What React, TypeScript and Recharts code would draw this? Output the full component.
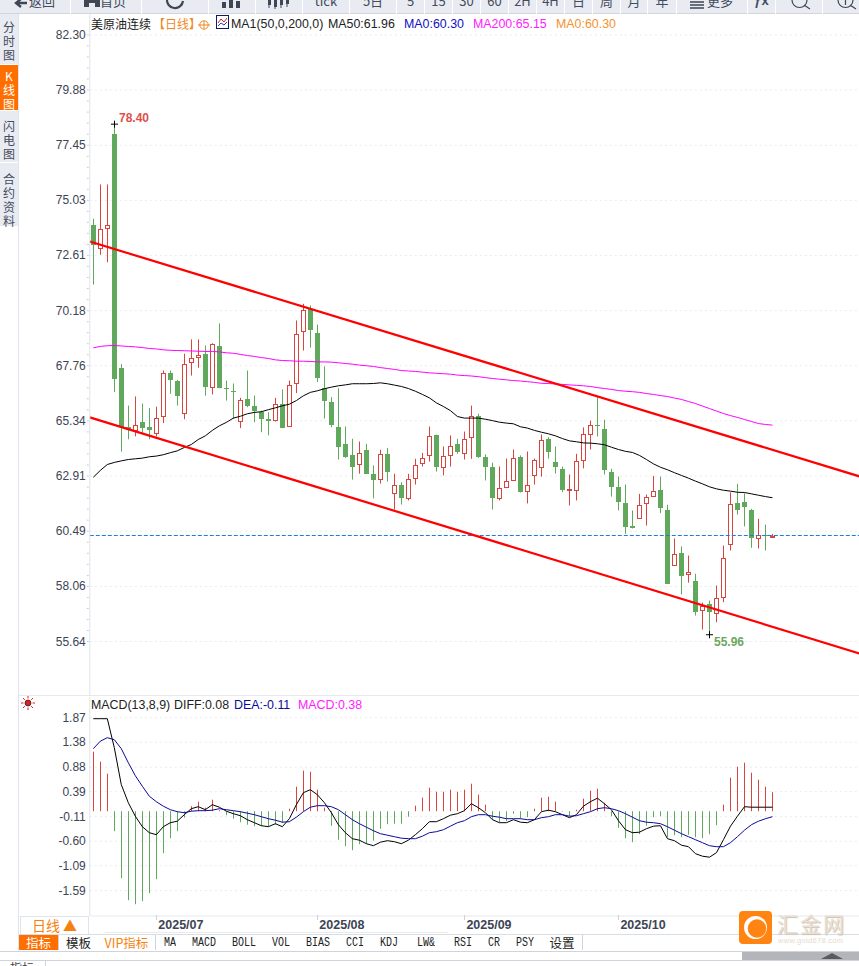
import { Bar, CartesianGrid, ComposedChart, Line, ReferenceLine, XAxis, YAxis } from "recharts";

const SLOTS = 110;

const opens = [
  73.93, 72.93, 73.81, 77.93, 67.67, 65.09, 64.95, 65.27, 65.09, 64.81,
  65.54, 67.46, 67.07, 65.68, 67.94, 68.14, 68.26, 66.84, 68.61, 66.79,
  66.67, 65.34, 66.28, 65.97, 65.74, 65.43, 65.39, 66.09, 65.10, 67.01,
  69.30, 70.26, 69.22, 66.79, 66.15, 65.09, 64.30, 63.82, 63.43, 64.04,
  63.02, 62.77, 63.86, 62.16, 62.54, 61.93, 62.82, 63.50, 63.83, 64.70,
  63.30, 63.83, 64.30, 63.92, 64.62, 65.57, 63.77, 63.29, 61.97, 62.42,
  62.73, 63.77, 62.26, 62.95, 63.30, 64.56, 63.55, 63.24, 62.29, 62.31,
  63.63, 64.77, 65.17, 65.00, 63.11, 62.41, 61.75, 60.70, 61.09, 61.72,
  62.03, 62.28, 61.44, 58.99, 59.54, 58.60, 58.31, 57.03, 57.30, 56.90,
  57.59, 59.92, 61.75, 61.78, 61.44, 60.18, 60.33, 60.22,
];
const highs = [
  74.22, 75.73, 75.73, 78.40, 67.83, 66.01, 66.41, 66.10, 65.90, 65.96,
  67.55, 67.55, 67.14, 68.29, 68.92, 68.92, 68.65, 68.75, 69.62, 67.11,
  66.98, 66.35, 67.55, 66.45, 65.79, 65.72, 66.35, 66.72, 67.11, 69.75,
  70.48, 70.41, 69.57, 67.73, 66.38, 66.77, 65.09, 64.55, 64.43, 64.33,
  63.38, 64.07, 64.15, 63.01, 62.64, 63.01, 63.67, 63.93, 65.09, 64.73,
  64.21, 64.70, 64.55, 64.87, 66.01, 65.65, 63.86, 63.50, 63.33, 63.68,
  64.08, 63.82, 63.99, 63.68, 64.74, 64.62, 64.21, 63.33, 62.98, 63.89,
  65.05, 65.35, 66.38, 65.39, 63.23, 62.89, 62.54, 61.40, 62.13, 62.10,
  62.92, 62.89, 61.65, 60.17, 59.82, 59.42, 58.62, 57.35, 57.44, 58.10,
  59.86, 62.20, 62.57, 62.16, 61.47, 61.03, 60.78, 60.37,
];
const lows = [
  71.33, 72.64, 72.31, 66.60, 63.99, 64.53, 64.66, 64.77, 64.53, 64.65,
  65.24, 66.53, 66.01, 65.41, 67.33, 67.67, 66.45, 66.50, 66.77, 66.23,
  65.43, 65.02, 65.94, 65.28, 64.84, 64.70, 65.31, 65.02, 65.08, 66.56,
  68.43, 68.56, 67.04, 65.44, 65.06, 63.64, 63.71, 62.76, 63.02, 63.02,
  61.93, 62.58, 62.67, 61.44, 61.66, 61.84, 62.54, 63.33, 63.55, 63.11,
  62.94, 63.33, 63.89, 63.64, 63.67, 63.71, 62.72, 61.44, 61.84, 62.38,
  62.72, 62.19, 61.71, 62.54, 62.89, 63.68, 63.02, 62.20, 61.62, 61.84,
  63.25, 64.08, 64.65, 62.98, 62.01, 61.40, 60.37, 60.61, 61.06, 60.74,
  62.03, 61.28, 58.19, 58.99, 57.71, 58.23, 56.78, 56.17, 55.96, 56.49,
  57.37, 59.64, 61.22, 60.70, 59.76, 59.73, 59.64, 60.22,
];
const closes = [
  73.05, 73.78, 73.96, 67.17, 65.05, 64.95, 65.17, 65.02, 64.92, 65.47,
  67.45, 67.13, 66.45, 67.85, 68.11, 68.24, 66.82, 68.70, 66.77, 66.72,
  66.60, 66.26, 65.98, 65.75, 65.40, 65.35, 66.09, 65.02, 66.92, 69.17,
  70.22, 69.32, 67.21, 66.20, 65.15, 64.21, 63.77, 63.29, 63.93, 63.02,
  62.72, 63.89, 63.11, 62.53, 61.97, 62.79, 63.41, 63.71, 64.68, 63.29,
  63.80, 64.24, 63.96, 64.55, 65.56, 63.73, 63.29, 61.93, 62.40, 62.70,
  63.71, 62.19, 62.53, 63.63, 64.51, 63.95, 63.29, 62.32, 62.33, 63.58,
  64.77, 65.17, 65.12, 63.17, 62.42, 61.76, 60.66, 60.61, 61.65, 62.00,
  62.26, 61.50, 58.19, 59.50, 58.54, 58.70, 56.93, 57.22, 56.93, 57.56,
  59.32, 61.69, 61.40, 61.54, 60.18, 60.33, 60.29, 60.30,
];
const ma50 = [
  62.86, 63.16, 63.42, 63.51, 63.58, 63.64, 63.67, 63.70, 63.76, 63.79,
  63.85, 63.94, 64.02, 64.17, 64.30, 64.52, 64.68, 64.92, 65.12, 65.27,
  65.46, 65.54, 65.65, 65.71, 65.74, 65.83, 65.91, 66.00, 66.07, 66.23,
  66.44, 66.59, 66.66, 66.75, 66.82, 66.88, 66.92, 66.97, 66.97, 66.97,
  66.98, 67.01, 66.97, 66.91, 66.85, 66.76, 66.64, 66.50, 66.35, 66.13,
  65.97, 65.79, 65.53, 65.46, 65.46, 65.46, 65.41, 65.35, 65.28, 65.24,
  65.21, 65.08, 65.02, 64.92, 64.84, 64.77, 64.68, 64.56, 64.46, 64.42,
  64.37, 64.36, 64.33, 64.29, 64.18, 64.08, 64.00, 63.95, 63.82, 63.64,
  63.45, 63.30, 63.19, 63.06, 62.94, 62.82, 62.69, 62.57, 62.44, 62.35,
  62.29, 62.25, 62.20, 62.19, 62.13, 62.07, 62.01, 61.96,
];
const ma200 = [
  68.55, 68.61, 68.64, 68.65, 68.63, 68.61, 68.59, 68.56, 68.52, 68.50,
  68.46, 68.44, 68.43, 68.42, 68.41, 68.40, 68.39, 68.39, 68.37, 68.33,
  68.31, 68.26, 68.21, 68.17, 68.12, 68.08, 68.02, 67.99, 67.98, 67.96,
  67.96, 67.95, 67.93, 67.93, 67.92, 67.89, 67.86, 67.83, 67.79, 67.76,
  67.73, 67.68, 67.64, 67.60, 67.55, 67.53, 67.51, 67.48, 67.45, 67.43,
  67.41, 67.39, 67.35, 67.33, 67.31, 67.28, 67.24, 67.20, 67.17, 67.14,
  67.11, 67.09, 67.06, 67.03, 66.99, 66.98, 66.96, 66.94, 66.92, 66.90,
  66.88, 66.85, 66.80, 66.76, 66.72, 66.67, 66.64, 66.62, 66.59, 66.54,
  66.50, 66.45, 66.41, 66.34, 66.28, 66.19, 66.10, 65.99, 65.88, 65.77,
  65.66, 65.57, 65.49, 65.40, 65.31, 65.22, 65.18, 65.15,
];
const diff = [
  1.85, 1.85, 1.85, 1.27, 0.53, 0.17, -0.10, -0.31, -0.43, -0.47,
  -0.31, -0.23, -0.20, -0.07, 0.05, 0.09, 0.03, 0.13, 0.08, 0.00,
  -0.05, -0.09, -0.17, -0.23, -0.29, -0.31, -0.25, -0.31, -0.15, 0.13,
  0.37, 0.43, 0.33, 0.17, -0.03, -0.27, -0.43, -0.55, -0.58, -0.65,
  -0.69, -0.62, -0.59, -0.61, -0.65, -0.58, -0.47, -0.35, -0.21, -0.21,
  -0.15, -0.08, -0.05, 0.01, 0.15, 0.07, -0.03, -0.17, -0.23, -0.23,
  -0.17, -0.22, -0.23, -0.17, -0.01, 0.02, -0.01, -0.07, -0.13, -0.07,
  0.10, 0.19, 0.26, 0.15, 0.03, -0.19, -0.37, -0.43, -0.42, -0.35,
  -0.30, -0.29, -0.55, -0.59, -0.68, -0.71, -0.85, -0.90, -0.92, -0.83,
  -0.57, -0.30, -0.10, 0.09, 0.08, 0.08, 0.08, 0.08,
];
const dea = [
  1.25, 1.40, 1.47, 1.43, 1.25, 0.97, 0.71, 0.50, 0.30, 0.19,
  0.10, 0.03, -0.01, -0.03, 0.00, 0.01, 0.01, 0.02, 0.05, 0.03,
  0.01, -0.01, -0.04, -0.07, -0.11, -0.15, -0.18, -0.22, -0.21, -0.12,
  -0.01, 0.08, 0.11, 0.11, 0.09, 0.03, -0.07, -0.17, -0.25, -0.32,
  -0.39, -0.45, -0.48, -0.51, -0.54, -0.55, -0.55, -0.50, -0.43, -0.41,
  -0.37, -0.30, -0.23, -0.19, -0.11, -0.07, -0.07, -0.10, -0.12, -0.15,
  -0.15, -0.15, -0.17, -0.17, -0.13, -0.11, -0.07, -0.07, -0.10, -0.09,
  -0.05, -0.01, 0.05, 0.07, 0.05, 0.01, -0.05, -0.12, -0.19, -0.22,
  -0.23, -0.25, -0.31, -0.38, -0.45, -0.51, -0.57, -0.63, -0.69, -0.71,
  -0.71, -0.63, -0.51, -0.38, -0.27, -0.20, -0.15, -0.11,
];
const macd = [
  1.19, 0.99, 0.75, -0.40, -1.34, -1.78, -1.86, -1.80, -1.64, -1.36,
  -0.84, -0.54, -0.40, -0.13, 0.10, 0.19, 0.07, 0.23, 0.02, -0.08,
  -0.15, -0.22, -0.27, -0.30, -0.30, -0.31, -0.27, -0.23, 0.05, 0.49,
  0.81, 0.79, 0.43, 0.07, -0.29, -0.57, -0.70, -0.78, -0.66, -0.65,
  -0.59, -0.35, -0.26, -0.25, -0.25, -0.11, 0.11, 0.27, 0.47, 0.39,
  0.39, 0.43, 0.39, 0.43, 0.55, 0.33, 0.13, -0.17, -0.22, -0.20,
  -0.05, -0.15, -0.12, 0.05, 0.27, 0.29, 0.19, -0.01, -0.10, 0.03,
  0.25, 0.41, 0.45, 0.17, -0.10, -0.33, -0.54, -0.62, -0.46, -0.29,
  -0.12, -0.10, -0.52, -0.48, -0.52, -0.47, -0.52, -0.54, -0.46, -0.28,
  0.13, 0.67, 0.89, 0.97, 0.77, 0.63, 0.49, 0.38,
];

const priceTicks = [82.3, 79.88, 77.45, 75.03, 72.61, 70.18, 67.76, 65.34, 62.91, 60.49, 58.06, 55.64];
const macdTicks = [1.87, 1.38, 0.88, 0.39, -0.11, -0.6, -1.09, -1.59];
const monthStarts = [9, 32, 53, 75];
const monthLabels = ["2025/07", "2025/08", "2025/09", "2025/10"];
const lastPrice = 60.3;
const upperChannel = [{ t: 0, v: 73.22 }, { t: SLOTS, v: 62.89 }];
const lowerChannel = [{ t: 0, v: 65.49 }, { t: SLOTS, v: 55.11 }];

const minorPriceTicks = priceTicks.slice(0, -1).flatMap((t, i) =>
  [1, 2, 3, 4].map((k) => t + ((priceTicks[i + 1] - t) * k) / 5),
);

const rows = Array.from({ length: SLOTS }, (_, i) => ({
  idx: i,
  range: i < opens.length ? [lows[i], highs[i]] : null,
  open: opens[i],
  high: highs[i],
  low: lows[i],
  close: closes[i],
  ma50: ma50[i] ?? null,
  ma200: ma200[i] ?? null,
  diff: diff[i] ?? null,
  dea: dea[i] ?? null,
  macd: macd[i] ?? null,
}));

const RED = "#d8453f";
const GREEN = "#60a85b";
const AXIS = "#dfe4ec";
const GRID = "#e8eaee";
const LABEL = "#3d4454";
const ICON = "#3f4656";
const SANS = "'Liberation Sans', Arial, sans-serif";
const CJK = "'Noto Sans CJK SC', sans-serif";

const maxHigh = Math.max(...highs);
const minLow = Math.min(...lows);

function Candle(props: any) {
  const { x, y, width, height, payload } = props;
  if (!payload || payload.range === null) return null;
  const { open, high, low, close } = payload;
  const h = Math.abs(height);
  const unit = h / (high - low);
  const col = Math.floor(x + width / 2);
  const top = Math.round(y + (high - Math.max(open, close)) * unit);
  const bottom = Math.round(y + (high - Math.min(open, close)) * unit);
  const up = close >= open;
  const color = up ? RED : GREEN;
  return (
    <g>
      <line x1={col + 0.5} x2={col + 0.5} y1={y} y2={y + h} stroke={color} strokeWidth={1} />
      {up ? (
        <rect x={col - 1.5} y={top + 0.5} width={4} height={Math.max(bottom - top, 1)} fill="#fff" stroke={color} strokeWidth={1} />
      ) : (
        <rect x={col - 2} y={top} width={5} height={Math.max(bottom - top, 1)} fill={color} />
      )}
      {high === maxHigh && (
        <g>
          <path d={`M${col - 3} ${y + 0.5}H${col + 4}M${col + 0.5} ${y - 3}V${y + 4}`} stroke="#000" strokeWidth={1} />
          <text x={col + 5} y={y - 2} fontSize={12} fontWeight="bold" fontFamily={SANS} fill="#e0504a">
            {high.toFixed(2)}
          </text>
        </g>
      )}
      {low === minLow && (
        <g>
          <path d={`M${col - 3} ${y + h + 0.5}H${col + 4}M${col + 0.5} ${y + h - 3}V${y + h + 4}`} stroke="#000" strokeWidth={1} />
          <text x={col + 5} y={y + h + 12} fontSize={12} fontWeight="bold" fontFamily={SANS} fill="#6aa860">
            {low.toFixed(2)}
          </text>
        </g>
      )}
    </g>
  );
}

function MacdBar(props: any) {
  const { x, y, width, height, payload } = props;
  if (!payload || payload.macd === null) return null;
  const col = Math.floor(x + width / 2);
  return (
    <rect
      x={col}
      y={Math.min(y, y + height)}
      width={1}
      height={Math.abs(height)}
      fill={payload.macd >= 0 ? RED : GREEN}
    />
  );
}

function PriceTick(props: any) {
  const { x, y, payload } = props;
  const major = priceTicks.includes(payload.value);
  return (
    <g>
      <line x1={x + 1} x2={x + 3} y1={y} y2={y} stroke="#c9ced8" />
      {major && (
        <text x={x} y={y + 4} textAnchor="end" fontSize={12} fontFamily={SANS} fill={LABEL}>
          {payload.value.toFixed(2)}
        </text>
      )}
    </g>
  );
}

function MonthTick(props: any) {
  const { x, y, payload } = props;
  const label = monthLabels[monthStarts.indexOf(payload.value)];
  return (
    <g>
      <line x1={Math.floor(x) + 0.5} x2={Math.floor(x) + 0.5} y1={y - 1} y2={y + 4} stroke="#cfd4dc" />
      <text x={x + 2} y={y + 13} fontSize={12.5} fontWeight="bold" fontFamily={SANS} fill={LABEL}>
        {label}
      </text>
    </g>
  );
}

function Abs({ x, y, color, size = 12.4, font = SANS, bold, children }: any) {
  return (
    <span
      style={{
        position: "absolute",
        left: x,
        top: y,
        color,
        fontSize: size,
        fontFamily: font,
        fontWeight: bold ? "bold" : "normal",
        lineHeight: "16px",
        whiteSpace: "nowrap",
      }}
    >
      {children}
    </span>
  );
}

const toolbar: [number, number, string, number][] = [
  [0, 70, "返回", 14], [71, 141, "首页", 14], [142, 208, "", 0], [209, 255, "", 0], [256, 302, "", 0], [303, 349, "tick", 0],
  [350, 396, "5日", 0], [397, 424, "5", 0], [425, 452, "15", 0], [453, 480, "30", 0], [481, 508, "60", 0], [509, 536, "2H", 0],
  [537, 564, "4H", 0], [565, 592, "日", 0], [593, 620, "周", 0], [621, 647, "月", 0], [648, 676, "年", 0], [677, 747, "更多", 16],
  [748, 775, "ƒx", 0], [776, 822, "", 0], [823, 859, "", 0],
];

const sideTabs: [number, number, string, boolean, number][] = [
  [14, 65, "分时图", false, 6],
  [65, 111, "K线图", true, 4],
  [111, 163, "闪电图", false, 8],
  [163, 227, "合约资料", false, 9],
];

const bottomTabs: [number, number, string][] = [
  [19, 58, "指标"], [59, 98, "模板"], [98, 155, "VIP指标"], [156, 184, "MA"], [184, 224, "MACD"], [224, 264, "BOLL"],
  [264, 298, "VOL"], [298, 338, "BIAS"], [338, 372, "CCI"], [372, 406, "KDJ"], [406, 446, "LW&"], [446, 480, "RSI"],
  [480, 508, "CR"], [508, 542, "PSY"], [542, 582, "设置"],
];

function ToolbarIcons() {
  return (
    <svg style={{ position: "absolute", left: 0, top: 0 }} width={859} height={13}>
      <path d="M27 3H18M21 -1L16 3L21 7" fill="none" stroke={ICON} strokeWidth={2.4} />
      <path d="M84 0L92 -5L100 0V7H95V3H89V7H84Z" fill={ICON} />
      <path d="M167 -1A8 8 0 0 0 183 1" fill="none" stroke={ICON} strokeWidth={2.2} />
      <path d="M222 2h4v6h-4zM229 -1h4v9h-4zM236 1h4v7h-4z" fill={ICON} />
      <path d="M268 0h3v5h-3zM274 0h3v7h-3zM280 0h3v5h-3zM286 0h3v4h-3z" fill={ICON} />
      <path d="M269 5v3M275 7v2M281 5v3M287 4v3" stroke={ICON} />
      <path d="M690 2H704M690 5H704M690 8H704" stroke={ICON} strokeWidth={1.6} />
      <path d="M792 0A7.5 7.5 0 0 0 807 0M804 5L810 9" fill="none" stroke={ICON} strokeWidth={1.2} />
      <path d="M838 0A7.5 7.5 0 0 0 853 0M850 5L856 9M845.5 0V5" fill="none" stroke={ICON} strokeWidth={1.2} />
    </svg>
  );
}

export default function App() {
  return (
    <div style={{ position: "absolute", left: 0, top: 0, width: 859, height: 966, overflow: "hidden", background: "#fff" }}>
      {/* toolbar, cut off by the screenshot */}
      {toolbar.map(([a, b, t, pad]) => (
        <div
          key={a}
          style={{
            position: "absolute", left: a, top: 0, width: b - a - pad, paddingLeft: pad, height: 13, overflow: "hidden", background: "#e9ebf3",
            borderBottom: "1px solid #d3d5db", textAlign: "center", lineHeight: "2px", fontSize: 13,
            fontFamily: t === "ƒx" ? SANS : CJK, fontWeight: t === "ƒx" ? "bold" : "normal", color: "#444b5b",
          }}
        >
          {t}
        </div>
      ))}
      <ToolbarIcons />

      {/* side tabs */}
      {sideTabs.map(([a, b, t, on, pad]) => (
        <div
          key={a}
          style={{
            position: "absolute", left: 0, top: a, width: 18, height: b - a - 1 - pad, paddingTop: pad, background: on ? "#ff6f00" : "#e9ebf3",
            color: on ? "#fff" : "#444b5b", fontSize: 12, lineHeight: "14px", fontFamily: CJK, textAlign: "center",
            display: "flex", flexDirection: "column",
          }}
        >
          {Array.from(t).map((c, i) => <span key={i}>{c}</span>)}
        </div>
      ))}
      <div style={{ position: "absolute", left: 18, top: 14, width: 1, height: 937, background: AXIS }} />
      <div style={{ position: "absolute", left: 18, top: 695, width: 841, height: 1, background: "#e6e8ec" }} />

      {/* price panel */}
      <div style={{ position: "absolute", left: 0, top: 14 }}>
        <ComposedChart width={860} height={681} data={rows} margin={{ top: 0, right: 0, bottom: 0, left: 0 }} barCategoryGap={0}>
          <CartesianGrid vertical={false} horizontalValues={priceTicks} stroke={GRID} strokeDasharray="2 3" />
          <XAxis dataKey="idx" hide />
          <XAxis xAxisId="t" dataKey="t" type="number" domain={[0, SLOTS]} hide />
          <YAxis
            width={89.8}
            domain={[53.29, 83.22]}
            allowDataOverflow
            ticks={[...priceTicks, ...minorPriceTicks]}
            interval={0}
            axisLine={{ stroke: AXIS }}
            tickLine={false}
            tick={<PriceTick />}
            tickSize={0}
            tickMargin={4}
          />
          <Bar dataKey="range" barSize={5} shape={<Candle />} isAnimationActive={false} />
          <Line dataKey="ma50" stroke="#000" strokeWidth={1} dot={false} isAnimationActive={false} />
          <Line dataKey="ma200" stroke="#ff00ff" strokeWidth={1} dot={false} isAnimationActive={false} />
          <ReferenceLine y={lastPrice} stroke="#2479dc" strokeDasharray="4 2" />
          <Line xAxisId="t" data={upperChannel} dataKey="v" stroke="#ff0000" strokeWidth={2.2} dot={false} isAnimationActive={false} />
          <Line xAxisId="t" data={lowerChannel} dataKey="v" stroke="#ff0000" strokeWidth={2.2} dot={false} isAnimationActive={false} />
        </ComposedChart>
      </div>

      {/* main legend */}
      <Abs x={91} y={16} color="#1a1a1a" size={12} font={CJK}>美原油连续</Abs>
      <Abs x={153} y={16} color="#f08a24" size={12} font={CJK}>【日线】</Abs>
      <svg style={{ position: "absolute", left: 198, top: 19 }} width={12} height={12}>
        <circle cx={6} cy={6} r={4.2} fill="none" stroke="#f08a24" />
        <path d="M0 6H12M6 2V10" stroke="#f08a24" />
      </svg>
      <svg style={{ position: "absolute", left: 216, top: 15 }} width={13} height={14}>
        <rect x={0.5} y={0.5} width={12} height={13} fill="#fff" stroke="#111a66" />
        <path d="M2 8L5 4L8 7L11 3" fill="none" stroke="#e02020" />
        <path d="M2 11L5 8L8 10L11 7" fill="none" stroke="#2040c0" />
      </svg>
      <Abs x={231} y={16} color="#222">MA1(50,0,200,0)</Abs>
      <Abs x={328} y={16} color="#222">MA50:61.96</Abs>
      <Abs x={404} y={16} color="#1010c0">MA0:60.30</Abs>
      <Abs x={473} y={16} color="#ff20ff">MA200:65.15</Abs>
      <Abs x={556} y={16} color="#f5922e">MA0:60.30</Abs>

      {/* macd panel */}
      <div style={{ position: "absolute", left: 0, top: 697 }}>
        <ComposedChart width={860} height={237} data={rows} margin={{ top: 0, right: 0, bottom: 0, left: 0 }} barCategoryGap={0}>
          <CartesianGrid vertical={false} horizontalValues={macdTicks} stroke={GRID} strokeDasharray="2 3" />
          <XAxis
            dataKey="idx"
            height={18}
            ticks={monthStarts}
            interval={0}
            axisLine={{ stroke: "#e6e8ec" }}
            tickLine={false}
            tick={<MonthTick />}
            tickSize={0}
            tickMargin={0}
          />
          <YAxis
            width={89.8}
            domain={[-2.096, 2.284]}
            allowDataOverflow
            ticks={macdTicks}
            interval={0}
            axisLine={{ stroke: AXIS }}
            tickLine={false}
            tick={{ fontSize: 12, fontFamily: SANS, fill: LABEL }}
            tickFormatter={(v: number) => v.toFixed(2)}
            tickSize={0}
            tickMargin={4}
          />
          <Bar dataKey="macd" barSize={1} shape={<MacdBar />} isAnimationActive={false} />
          <Line dataKey="diff" stroke="#000" strokeWidth={1} dot={false} isAnimationActive={false} />
          <Line dataKey="dea" stroke="#0a0a9c" strokeWidth={1} dot={false} isAnimationActive={false} />
        </ComposedChart>
      </div>

      {/* macd legend */}
      <svg style={{ position: "absolute", left: 21, top: 696 }} width={14} height={14}>
        <circle cx={7} cy={7} r={3} fill="#e02020" stroke="#000" strokeWidth={0.6} />
        <path d="M7 0V2.5M7 11.5V14M0 7H2.5M11.5 7H14M2 2L3.8 3.8M10.2 10.2L12 12M12 2L10.2 3.8M3.8 10.2L2 12" stroke="#e02020" />
      </svg>
      <Abs x={91} y={697} color="#222">MACD(13,8,9)</Abs>
      <Abs x={174} y={697} color="#222">DIFF:0.08</Abs>
      <Abs x={234} y={697} color="#0a0a9c">DEA:-0.11</Abs>
      <Abs x={298} y={697} color="#ff20ff">MACD:0.38</Abs>

      {/* period switch */}
      <div
        style={{
          position: "absolute", left: 20, top: 916, width: 67, height: 17, border: "1px solid #dfe4ec", color: "#f5820f",
          fontFamily: CJK, fontSize: 14, lineHeight: "17px", textAlign: "center",
        }}
      >
        日线 ▲
      </div>

      {/* bottom tabs */}
      <div style={{ position: "absolute", left: 105, top: 932, width: 343, height: 1, background: "#e8eaee" }} />
      <div style={{ position: "absolute", left: 19, top: 934, width: 840, height: 1, background: "#d9dde4" }} />
      {bottomTabs.map(([a, b, t], i) => {
        const cjk = /[^A-Za-z&]/.test(t);
        return (
          <div
            key={a}
            style={{
              position: "absolute", left: a, top: 935, width: b - a, height: 15, borderRight: "1px solid #cfd4dc", textAlign: "center",
              background: i === 0 ? "#ff6f00" : "#fff", color: i === 0 ? "#fff" : i === 2 ? "#f5820f" : "#222",
              fontFamily: cjk ? CJK : "'Liberation Mono', monospace", fontSize: cjk ? 12.5 : 10, lineHeight: "15px",
            }}
          >
            <span style={{ display: "inline-block", transform: cjk ? "none" : "scaleY(1.2)" }}>{t}</span>
          </div>
        );
      })}
      <div style={{ position: "absolute", left: 0, top: 951, width: 859, height: 1, background: "#cfd4dc" }} />
      <div style={{ position: "absolute", left: 0, top: 960, width: 859, height: 1, background: "#cfd4dc" }} />
      <div style={{ position: "absolute", left: 742, top: 952, width: 117, height: 8, background: "#b4b5bb" }} />
      <svg style={{ position: "absolute", left: 820, top: 952 }} width={24} height={8}>
        <path d="M12 1L23 7H1Z" fill="#5a5a60" />
      </svg>
      <div style={{ position: "absolute", left: 0, top: 961, width: 35, height: 5, background: "#fff", borderRight: "1px solid #cfd4dc", overflow: "hidden", fontFamily: CJK, fontSize: 12, lineHeight: "14px", paddingLeft: 10, color: "#444" }}>
        指标
      </div>

      {/* watermark */}
      <svg style={{ position: "absolute", left: 739, top: 911 }} width={33} height={33}>
        <rect width={33} height={33} rx={4} fill="#ff8412" />
        <circle cx={16.5} cy={16.5} r={11.5} fill="#fff" />
        <circle cx={18} cy={17.5} r={9.3} fill="#ff8412" />
      </svg>
      <span
        style={{
          position: "absolute", left: 777, top: 908, color: "#eadfd4", fontFamily: CJK, fontSize: 21, letterSpacing: 2,
          lineHeight: "30px", textShadow: "1px 1px 1px #cbbfb2", whiteSpace: "nowrap",
        }}
      >
        汇金网
      </span>
      <span style={{ position: "absolute", left: 778, top: 936, color: "#e5dacf", fontFamily: SANS, fontSize: 7.5, lineHeight: "10px", letterSpacing: 0.3, whiteSpace: "nowrap" }}>
        www.gold678.com
      </span>
    </div>
  );
}
